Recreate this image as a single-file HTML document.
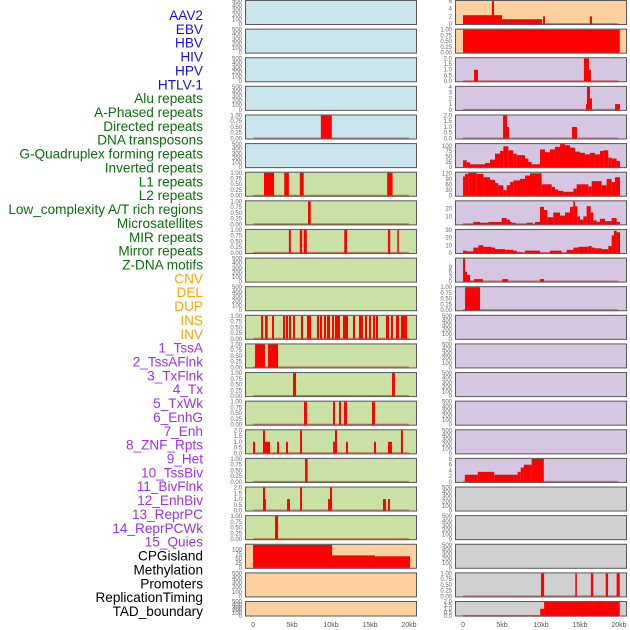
<!DOCTYPE html>
<html><head><meta charset="utf-8"><style>
html,body{margin:0;padding:0;background:#fff;}
svg{display:block;font-family:"Liberation Sans",sans-serif;}
</style></head><body>
<svg id="chart" width="630" height="630" viewBox="0 0 630 630" xmlns="http://www.w3.org/2000/svg"></svg>
<script>
// ---------- label data ----------
const labelNames = ["AAV2","EBV","HBV","HIV","HPV","HTLV-1","Alu repeats","A-Phased repeats","Directed repeats","DNA transposons","G-Quadruplex forming repeats","Inverted repeats","L1 repeats","L2 repeats","Low_complexity A/T rich regions","Microsatellites","MIR repeats","Mirror repeats","Z-DNA motifs","CNV","DEL","DUP","INS","INV","1_TssA","2_TssAFlnk","3_TxFlnk","4_Tx","5_TxWk","6_EnhG","7_Enh","8_ZNF_Rpts","9_Het","10_TssBiv","11_BivFlnk","12_EnhBiv","13_ReprPC","14_ReprPCWk","15_Quies","CPGisland","Methylation","Promoters","ReplicationTiming","TAD_boundary"];
const labelGroups = [6,13,5,15,5];
const groupColors = ["#1010ee","#0a6e0a","#ffa500","#a030f0","#000000"];
const xTicks = [0,5,10,15,20];
const xTickLabels = ["0","5kb","10kb","15kb","20kb"];

// ---------- left column series (kb start, kb end, value) ----------
const L_directed = [[8.7,10.1,1]];
const L_L1 = [[1.4,2.7,1],[4.0,4.6,1],[6.0,6.5,1],[17.2,17.9,1]];
const L_lowcomp = [[7.05,7.4,1]];
const L_MIR = [[4.6,4.85,1],[6.0,6.3,1],[6.5,6.9,1],[11.7,12.05,1],[17.3,17.6,1],[18.5,18.7,1]];
const L_INS = [[1.03,1.28,1],[1.54,1.88,1],[2.44,2.69,1],[3.85,4.1,1],[4.23,4.49,1],[4.62,4.87,1],[5.13,5.38,1],[6.15,6.41,1],[6.92,7.44,1],[8.2,8.46,1],[8.59,8.85,1],[9.1,9.36,1],[9.49,9.87,1],[10.13,10.38,1],[10.51,11.15,1],[11.54,12.18,1],[12.82,13.08,1],[13.59,14.1,1],[14.36,14.62,1],[14.87,15.13,1],[15.38,15.64,1],[15.77,16.03,1],[17.05,17.44,1],[17.69,17.95,1],[18.33,18.72,1],[18.97,19.74,1]];
const L_TssA = [[0.26,1.54,1],[1.92,3.21,1]];
const L_TxFlnk = [[5.13,5.51,1],[17.82,18.2,1]];
const L_Tx = [[6.54,6.92,1],[10.26,10.51,1],[11.03,11.28,1],[11.67,12.05,1],[15.26,15.64,1]];
const L_Enh = [[0,0.26,1],[1.28,1.54,2],[1.54,2.18,1],[3.08,3.33,1],[4.23,4.49,1],[6.03,6.28,2],[10.26,10.51,1],[10.51,10.77,2],[11.92,12.18,1],[15.51,15.77,1],[17.31,17.82,1],[18.97,19.23,2]];
const L_ZNF = [[6.67,7.0,1]];
const L_Biv = [[1.28,1.54,2],[1.54,1.66,1],[4.36,4.74,1],[6.03,6.28,2],[9.62,9.87,1],[9.87,10.13,2],[16.67,17.05,1],[17.31,17.56,1]];
const L_Repr = [[2.82,3.21,1]];
const L_CPG = [[0,10.13,126],[10.13,15.64,68],[15.64,20.13,63]];

// ---------- right column series ----------
const R_AAV = [[0,3.72,2.3],[3.72,3.97,6],[3.97,5.0,2.3],[5.0,10.13,1.24],[10.26,10.51,2],[16.28,16.54,2]];
const R_EBV = [[0,20.1,1]];
const R_HIV = [[1.41,1.92,1],[15.5,16.15,2],[16.15,16.41,1]];
const R_HPV = [[15.77,15.9,1],[15.9,16.28,4],[16.28,16.54,2],[19.5,20.13,1]];
const R_HTLV = [[5.13,5.64,2],[5.64,5.9,1],[13.97,14.62,1]];
const gqEdges = [0,0.47,0.9,2.82,3.46,4.1,4.74,5.17,5.81,6.45,6.88,7.95,8.38,8.8,9.87,10.51,11.15,11.79,12.44,13.08,13.72,14.36,15.0,15.64,16.28,16.92,17.56,17.99,18.63,19.06,19.7,20.13];
const gqVals = [32,22,13,19,35,63,76,98,79,63,56,40,24,13,83,70,83,95,108,103,92,73,67,60,67,60,76,79,44,40,29];
const l1Edges = [0,0.26,0.68,1.75,2.61,3.46,4.1,4.53,5.17,5.6,6.03,6.45,7.31,7.95,8.59,10.09,11.37,11.79,12.22,12.86,14.15,14.57,15.21,16.07,16.5,17.78,18.42,19.06,19.49,20.13];
const l1Vals = [103,117,123,117,99,85,68,56,30,56,73,82,90,108,120,61,47,33,26,21,38,61,61,50,78,56,90,73,99];
const lcEdges = [0,1.32,2.18,3.25,4.96,5.6,6.03,6.24,6.75,8.16,8.93,9.23,9.87,10.38,10.81,11.58,12.44,13.08,13.72,14.15,14.36,14.66,15.0,15.43,15.86,16.37,16.71,17.14,17.56,18.21,19.06,19.7,20.13];
const lcVals = [0.5,3,2,3,8,6,3,2,0.5,2,0,3,22,18,9,15,11,15,22,29,23,10,6,10,23,15,5,3,7,4,8,3];
const mirEdges = [0,0.47,1.32,1.97,2.61,3.68,4.1,5.38,6.45,6.88,7.52,7.95,9.87,11.15,12.65,13.29,14.15,14.79,16.07,16.5,16.92,17.78,18.63,19.06,19.36,19.7,20.13];
const mirVals = [3,2,7,10,8,7,5,4,3,1,0,3,0,3,0,4,7,8,9,7,6,5,9,23,29,27];
const R_ZDNA = [[0,0.26,14],[0.26,0.51,6],[0.51,0.9,4],[0.9,1.32,0.5],[1.41,2.56,1.5],[5.04,5.77,1.5],[9.87,10.38,1.5]];
const R_CNV = [[0.26,2.18,1]];
const R_Het = [[0.23,1.9,2.5],[1.9,3.99,3.5],[3.99,7.0,2.5],[7.0,7.4,3.5],[7.4,7.8,5],[7.8,8.8,6],[8.8,10.36,8]];
const R_Prom = [[10.0,10.4,1],[14.4,14.6,1],[16.4,16.7,1],[18.3,18.6,1],[19.7,20.1,1]];
const R_TAD = [[9.9,10.4,1],[10.4,20.1,2]];

function stepsFrom(edges, vals){const out=[];for(let i=0;i<vals.length;i++)out.push([edges[i],edges[i+1],vals[i]]);return out;}

const BLUE="#c9e4ec",GREEN="#c9e1a4",ORANGE="#fecf9f",PURPLE="#d5c6e1",GRAY="#d0d0d0";
const T500=[0,100,200,300,400,500],T1=[0,0.25,0.5,0.75,1],T2=[0,0.5,1,1.5,2];
function P(name,bg,data,ticks,ymax,dec){return {name,bg,data,ticks,ymax,dec};}
const leftPanels=[
 P("aav-ebv",BLUE,null,T500,500,0),P("hbv-hiv",BLUE,null,T500,500,0),P("hpv-htlv",BLUE,null,T500,500,0),
 P("alu-aphased",BLUE,null,T500,500,0),P("directed-repeats",BLUE,L_directed,T1,1,2),P("gquad-left",BLUE,null,T500,500,0),
 P("l1-repeats",GREEN,L_L1,T1,1,2),P("low-complexity",GREEN,L_lowcomp,T1,1,2),P("mir-repeats",GREEN,L_MIR,T1,1,2),
 P("zdna-cnv",GREEN,null,T500,500,0),P("del-dup",GREEN,null,T500,500,0),P("ins",GREEN,L_INS,T1,1,2),
 P("tssa",GREEN,L_TssA,T1,1,2),P("txflnk",GREEN,L_TxFlnk,T1,1,2),P("tx",GREEN,L_Tx,T1,1,2),
 P("enh",GREEN,L_Enh,T2,2,1),P("znf",GREEN,L_ZNF,T1,1,2),P("bivflnk",GREEN,L_Biv,T2,2,1),
 P("reprpc",GREEN,L_Repr,T1,1,2),P("cpgisland",ORANGE,L_CPG,[0,25,50,75,100],126,0),
 P("methylation",ORANGE,null,T500,500,0),P("tad-left",ORANGE,null,T500,500,0)];
const rightPanels=[
 P("aav2-right",ORANGE,R_AAV,[0,2,4,6],6,0),P("ebv-right",ORANGE,R_EBV,T1,1,2),P("hiv-right",PURPLE,R_HIV,T2,2,1),
 P("hpv-right",PURPLE,R_HPV,[0,1,2,3,4],4,0),P("htlv-right",PURPLE,R_HTLV,T2,2,1),
 P("gquad-right",PURPLE,stepsFrom(gqEdges,gqVals),[0,25,50,75,100],108,0),
 P("l1-right",PURPLE,stepsFrom(l1Edges,l1Vals),[0,30,60,90,120],123,0),
 P("lowcomp-right",PURPLE,stepsFrom(lcEdges,lcVals),[10,20],29,0),
 P("mir-right",PURPLE,stepsFrom(mirEdges,mirVals),[0,10,20,30],30,0),
 P("zdna-right",PURPLE,R_ZDNA,[0,3,6,9],14,0),P("cnv-right",PURPLE,R_CNV,T1,1,2),
 P("empty-r11",PURPLE,null,T500,500,0),P("empty-r12",PURPLE,null,T500,500,0),P("empty-r13",PURPLE,null,T500,500,0),
 P("empty-r14",PURPLE,null,T500,500,0),P("empty-r15",PURPLE,null,T500,500,0),
 P("het-right",PURPLE,R_Het,[0,2,4,6,8],8,0),
 P("empty-r17",GRAY,null,T500,500,0),P("empty-r18",GRAY,null,T500,500,0),P("empty-r19",GRAY,null,T500,500,0),
 P("promoters-right",GRAY,R_Prom,T1,1,2),P("tad-right",GRAY,R_TAD,T2,2,1)];

const NS="http://www.w3.org/2000/svg";
const svg=document.getElementById('chart');
function el(tag,attrs,parent){const e=document.createElementNS(NS,tag);for(const k in attrs)e.setAttribute(k,attrs[k]);(parent||svg).appendChild(e);return e;}

// labels
let idx=0;
labelGroups.forEach((n,g)=>{for(let i=0;i<n;i++){const y=15+idx*13.86;
 const t=el('text',{x:203,y:y+5,'text-anchor':'end','font-size':'13.6',fill:groupColors[g]});
 t.textContent=labelNames[idx];
 
 
 idx++;}});

function drawPanel(p,row,colX){
 const top=row*28.62, h=row===21?15.5:25, w=172;
 const kb0=-1.03,kb1=21.03;
 const xs=kb=>colX+(kb-kb0)/(kb1-kb0)*w;
 const pad=p.ymax*0.045, lo=-pad, hi=p.ymax+pad;
 const ys=v=>top+h-(v-lo)/(hi-lo)*h;
 const g=el('g',{});
 
 
 el('rect',{x:colX,y:top,width:w,height:h,fill:p.bg},g);
 if(p.data){
  const bl=el('line',{x1:xs(0),x2:xs(row===21||p.name.indexOf('right')>=0?19.9:20),y1:ys(0),y2:ys(0),stroke:'rgba(190,0,0,0.45)','stroke-width':2},g);
  
  
  p.data.forEach(d=>{const v=Math.min(d[2],hi);
   const r=el('rect',{x:xs(d[0]),y:ys(v),width:Math.max(0.8,xs(d[1])-xs(d[0])),height:ys(0)-ys(v),fill:'#ff0000'},g);
   
   });
 }
 el('rect',{x:colX+0.5,y:top+0.5,width:w-1,height:h-1,fill:'none',stroke:'#5a5a5a','stroke-width':1},g);
 p.ticks.forEach(t=>{const tx=el('text',{x:colX-3,y:ys(t)+2,'text-anchor':'end','font-size':'6',fill:'#666'},g);
  tx.textContent=t.toFixed(p.dec);
  
  });
}
leftPanels.forEach((p,i)=>drawPanel(p,i,245));
rightPanels.forEach((p,i)=>drawPanel(p,i,455));

[245,455].forEach(cx=>{xTicks.forEach((k,i)=>{const x=cx+(k+1.03)/22.06*172;
 const t=el('text',{x:x,y:627,'text-anchor':'middle','font-size':'7',fill:'#555'});
 t.textContent=xTickLabels[i];
 
 });});
</script>
</body></html>
